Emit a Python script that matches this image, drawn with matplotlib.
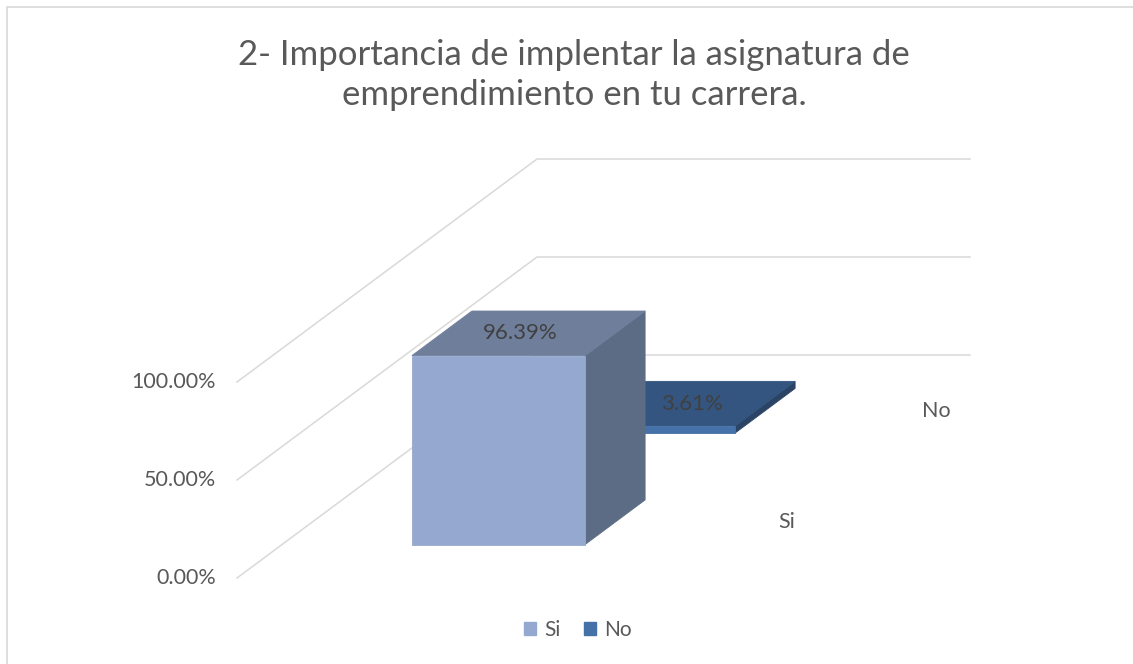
import matplotlib.pyplot as plt
from matplotlib.patches import Polygon, Patch, Rectangle

plt.rcParams['font.family'] = ['Lato', 'DejaVu Sans']

# data
series = ["Si", "No"]
values = [96.39, 3.61]
value_labels = ["96.39%", "3.61%"]
ticks = [0, 50, 100]
tick_labels = ["0.00%", "50.00%", "100.00%"]
title = "2- Importancia de implentar la asignatura de\nemprendimiento en tu carrera."

front_colors = ["#95A9D0", "#4572A8"]
top_colors = ["#6F7F9B", "#34557F"]
side_colors = ["#5D6C85", "#2B4466"]
legend_colors = ["#95A9D0", "#4472A8"]

W, H = 1133, 664
fig = plt.figure(figsize=(W / 100, H / 100), dpi=100)

# front plane of the 3d box: x 0..1 (category), y 0..100 (%)
ax = fig.add_axes([237 / W, 86 / H, 433 / W, 196 / H])
ax.set_xlim(0, 1)
ax.set_ylim(0, 100)
ax.axis("off")

# oblique depth offset (full depth) in data units
DX = 300 / 433
DY = 223 / 196 * 100


def proj(x, v, d):
    return (x + d * DX, v + d * DY)


grid_col = "#D9D9D9"
for t, lab in zip(ticks, tick_labels):
    pts = [proj(0, t, 0), proj(0, t, 1), proj(1, t, 1)]
    ax.plot([p[0] for p in pts], [p[1] for p in pts], color=grid_col,
            lw=1.1, clip_on=False, zorder=1)
    ax.annotate(lab, proj(0, t, 0), xytext=(-15, 0), textcoords="offset points",
                ha="right", va="center", fontsize=15.5, color="#595959",
                annotation_clip=False)

bar_x0, bar_x1 = 0.3, 0.7
depth_rows = [(0.15, 0.35), (0.65, 0.85)]

# back row first
for i in [1, 0]:
    v = values[i]
    d0, d1 = depth_rows[i]
    front = [proj(bar_x0, 0, d0), proj(bar_x1, 0, d0), proj(bar_x1, v, d0), proj(bar_x0, v, d0)]
    top = [proj(bar_x0, v, d0), proj(bar_x1, v, d0), proj(bar_x1, v, d1), proj(bar_x0, v, d1)]
    side = [proj(bar_x1, 0, d0), proj(bar_x1, 0, d1), proj(bar_x1, v, d1), proj(bar_x1, v, d0)]
    for poly, c in [(side, side_colors[i]), (top, top_colors[i]), (front, front_colors[i])]:
        ax.add_patch(Polygon(poly, closed=True, facecolor=c, edgecolor=c,
                             lw=0.6, clip_on=False, zorder=3 + (1 - i)))

label_shift = [(-6, 0), (10, 0)]
for i in [1, 0]:
    d0, d1 = depth_rows[i]
    ax.annotate(value_labels[i], proj(0.5, values[i], (d0 + d1) / 2),
                xytext=label_shift[i], textcoords="offset points",
                ha="center", va="center", fontsize=16, color="#404040",
                zorder=10, annotation_clip=False)

# depth axis labels
for i, s in enumerate(series):
    d0, d1 = depth_rows[i]
    ax.annotate(s, proj(1, 0, (d0 + d1) / 2), xytext=(30, 0),
                textcoords="offset points", ha="center", va="center",
                fontsize=15.5, color="#595959", annotation_clip=False)

fig.text(574 / W, 1 - 75 / H, title, ha="center", va="center", fontsize=25,
         color="#595959", linespacing=1.3)

handles = [Patch(facecolor=c, edgecolor=c) for c in legend_colors]
fig.legend(handles, series, loc="center", bbox_to_anchor=(578 / W, 1 - 630 / H),
           ncol=2, frameon=False, fontsize=15, labelcolor="#595959",
           handlelength=0.6, handleheight=0.6, handletextpad=0.4,
           columnspacing=1.1)

# chart border (right/bottom edges off image)
fig.patches.append(Rectangle((6.5 / W, -0.1), 1.2, (H - 7) / H + 0.1,
                             transform=fig.transFigure, fill=False,
                             edgecolor=grid_col, lw=1.2))

fig.savefig("out.png", dpi=100)
